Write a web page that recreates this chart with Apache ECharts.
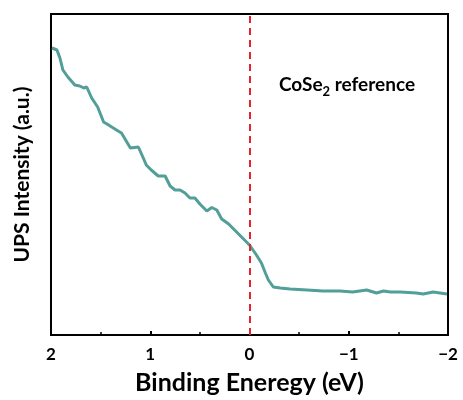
<!DOCTYPE html>
<html>
<head>
<meta charset="utf-8">
<script src="https://cdn.jsdelivr.net/npm/echarts@6/dist/echarts.min.js"></script>
<style>
  html, body { margin: 0; padding: 0; background: #fff; }
  #chart { width: 463px; height: 400px; }
</style>
</head>
<body>
<div id="chart"></div>
<script>
// UPS valence-band spectrum of the CoSe2 reference sample
const bindingEnergy = [
  1.99, 1.94, 1.91, 1.88, 1.83, 1.76, 1.71, 1.67, 1.64, 1.59,
  1.53, 1.47, 1.42, 1.34, 1.29, 1.20, 1.12, 1.07, 1.04, 0.99,
  0.92, 0.85, 0.80, 0.75, 0.70, 0.65, 0.60, 0.55, 0.50, 0.43,
  0.38, 0.33, 0.28, 0.21, 0.15, 0.08, 0.00, -0.07, -0.12, -0.16,
  -0.19, -0.24, -0.31, -0.41, -0.58, -0.74, -0.91, -1.04, -1.18, -1.28,
  -1.35, -1.42, -1.52, -1.68, -1.75, -1.85, -1.99
];
const upsIntensity = [
  287, 285, 277, 265, 258, 250, 249, 247, 248, 237,
  228, 213, 210, 205, 202, 187, 188, 177, 170, 165,
  159, 159, 149, 145, 145, 142, 137, 137, 131, 124,
  127.5, 125, 116, 111, 105, 98, 90, 80, 72, 62,
  55, 48, 47, 46, 45, 44, 44, 43, 45, 42,
  44, 43, 43, 42, 41, 43, 41
];
const xTicks = [2, 1, 0, -1, -2];
const fermiLevel = 0;

const FONT = 'Lato';
const chart = echarts.init(document.getElementById('chart'), null, { renderer: 'canvas' });

chart.setOption({
  animation: false,
  backgroundColor: '#ffffff',
  grid: {
    left: 51, right: 15, top: 14, bottom: 65,
    show: true, borderColor: '#000', borderWidth: 2
  },
  title: {
    text: 'CoSe{sub|2} reference',
    left: 274, top: 67,
    textStyle: {
      fontFamily: FONT, fontWeight: 'bold', fontSize: 19, color: '#000',
      rich: {
        sub: { fontFamily: FONT, fontWeight: 'bold', fontSize: 13, verticalAlign: 'bottom', padding: [13, 0, 0, 0], color: '#000' }
      }
    }
  },
  xAxis: {
    type: 'value',
    inverse: true,
    min: Math.min(...xTicks),
    max: Math.max(...xTicks),
    interval: 1,
    name: 'Binding Eneregy (eV)',
    nameLocation: 'middle',
    nameGap: 35,
    nameTextStyle: { fontFamily: FONT, fontWeight: 'bold', fontSize: 25, color: '#000' },
    axisLine: { show: true, onZero: false, lineStyle: { color: '#000', width: 2 } },
    axisTick: { show: true, inside: true, length: 4, lineStyle: { color: '#000', width: 2 } },
    minorTick: { show: true, splitNumber: 2, length: 3, lineStyle: { color: '#000', width: 1.5 } },
    splitLine: { show: false },
    axisLabel: {
      margin: 11,
      fontFamily: FONT, fontWeight: 'bold', fontSize: 17, color: '#000',
      formatter: v => (v < 0 ? '\u2212' + Math.abs(v) : String(v))
    }
  },
  yAxis: {
    type: 'value',
    min: 0,
    max: 321,
    name: 'UPS Intensity (a.u.)',
    nameLocation: 'middle',
    nameGap: 18,
    nameTextStyle: { fontFamily: FONT, fontWeight: 'bold', fontSize: 21, color: '#000' },
    axisLine: { show: true, onZero: false, lineStyle: { color: '#000', width: 2 } },
    axisTick: { show: false },
    axisLabel: { show: false },
    splitLine: { show: false }
  },
  series: [{
    type: 'line',
    data: bindingEnergy.map((e, i) => [e, upsIntensity[i]]),
    showSymbol: false,
    smooth: false,
    lineStyle: { color: '#529e98', width: 3 },
    markLine: {
      silent: true,
      symbol: 'none',
      label: { show: false },
      lineStyle: { color: '#e8232a', type: [7, 5], width: 2 },
      data: [{ xAxis: fermiLevel }]
    }
  }]
});
</script>
</body>
</html>
